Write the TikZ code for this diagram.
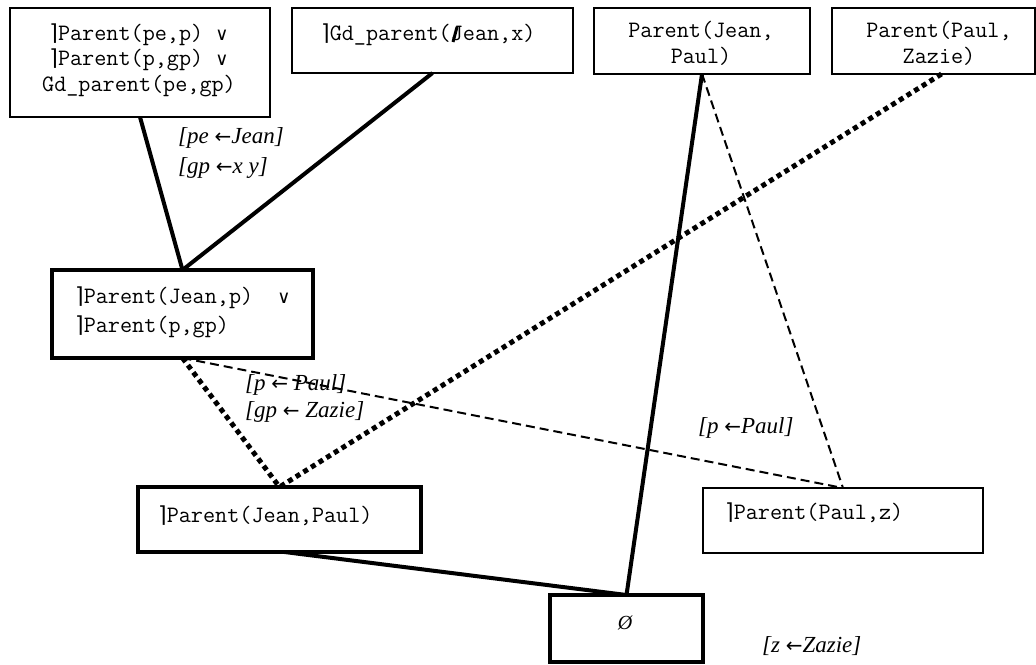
\documentclass[tikz,border=0pt]{standalone}
\usepackage{fontspec}
\setmainfont{Liberation Serif}
\newfontfamily\dvs{DejaVu Sans}
\newcommand{\ngt}{{\dvs\fontsize{22}{22}\selectfont ⌉}}
\newcommand{\vel}{{\dvs\fontsize{18}{18}\selectfont ∨}}
\newcommand{\arr}{{\dvs\upshape\fontsize{20}{20}\selectfont ←}}
\begin{document}
\begin{tikzpicture}[x=1pt,y=-1pt,
  thinbox/.style={draw, line width=1.2pt, inner sep=0pt, outer sep=0pt, anchor=north west},
  thickbox/.style={draw, line width=4.5pt, inner sep=0pt, outer sep=0pt, anchor=north west},
  monotxt/.style={font=\ttfamily\fontsize{23.5}{25.5}\selectfont, inner sep=0pt},
  lbl/.style={font=\itshape\fontsize{23}{23}\selectfont, inner sep=0pt, anchor=base west},
  thickline/.style={line width=4pt},
  dashline/.style={line width=2pt, dash pattern=on 9pt off 5pt},
  dotline/.style={line width=5pt, dash pattern=on 5pt off 4pt}
]
\useasboundingbox (0,0) rectangle (1036,664);

% boxes
\node[thinbox, minimum width=260, minimum height=109] (A) at (10,8) {};
\node[thinbox, minimum width=281, minimum height=65] (B) at (292,8) {};
\node[thinbox, minimum width=216, minimum height=66] (C1) at (594,8) {};
\node[thinbox, minimum width=203, minimum height=66] (C2) at (832,8) {};
\node[thickbox, minimum width=261, minimum height=88] (D) at (52,270) {};
\node[thickbox, minimum width=283, minimum height=65] (E) at (138,487) {};
\node[thinbox, minimum width=280, minimum height=65] (F) at (703,488) {};
\node[thickbox, minimum width=153, minimum height=67] (G) at (550,595) {};

% texts (multi-line nodes: base = last line)
\node[monotxt, align=center, anchor=base] (tA) at (139,91)
  {\ngt Parent(pe,p)~\vel\\ \ngt Parent(p,gp)~\vel\\ Gd\_parent(pe,gp)};
\node[monotxt, anchor=base west] (tB) at (321,40) {\ngt Gd\_parent(Jean,x)};
\node[monotxt, align=center, anchor=base] (tC1) at (701,63) {Parent(Jean,\\Paul)};
\node[monotxt, align=center, anchor=base] (tC2) at (939,63) {Parent(Paul,\\Zazie)};
\node[monotxt, align=left, anchor=base west, font=\ttfamily\fontsize{23.5}{29}\selectfont] (tD) at (75,332)
  {\ngt Parent(Jean,p)~~\vel\\ \ngt Parent(p,gp)};
\node[monotxt, anchor=base west] (tE) at (158,522) {\ngt Parent(Jean,Paul)};
\node[monotxt, anchor=base west] (tF) at (725,519) {\ngt Parent(Paul,z)};
\node[font=\itshape\fontsize{20}{20}\selectfont, inner sep=0pt, anchor=base] (tG) at (625,629) {Ø};

% connectors
\draw[thickline] (A.south) -- (D.north);
\draw[thickline] (B.south) -- (D.north);
\draw[thickline] (C1.south) -- (G.north);
\draw[dashline] (C1.south) -- (F.north);
\draw[dashline] (D.south) -- (F.north);
\draw[dotline] (D.south) -- (E.north);
\draw[dotline] ([xshift=8pt]C2.south) -- (E.north);
\draw[thickline] ([xshift=5pt]E.south) -- (G.north);
\draw[line width=3pt] (453,42) -- (457,27);

% labels
\node[lbl] (l1) at (178,143) {[pe \arr Jean]};
\node[lbl] (l2) at (178,173) {[gp \arr x y]};
\node[lbl] (l3) at (245,390) {[p \arr{} Paul]};
\node[lbl] (l4) at (245,417) {[gp \arr{} Zazie]};
\node[lbl] (l5) at (698,433) {[p \arr Paul]};
\node[lbl] (l6) at (762,652) {[z \arr Zazie]};
\end{tikzpicture}
\end{document}
